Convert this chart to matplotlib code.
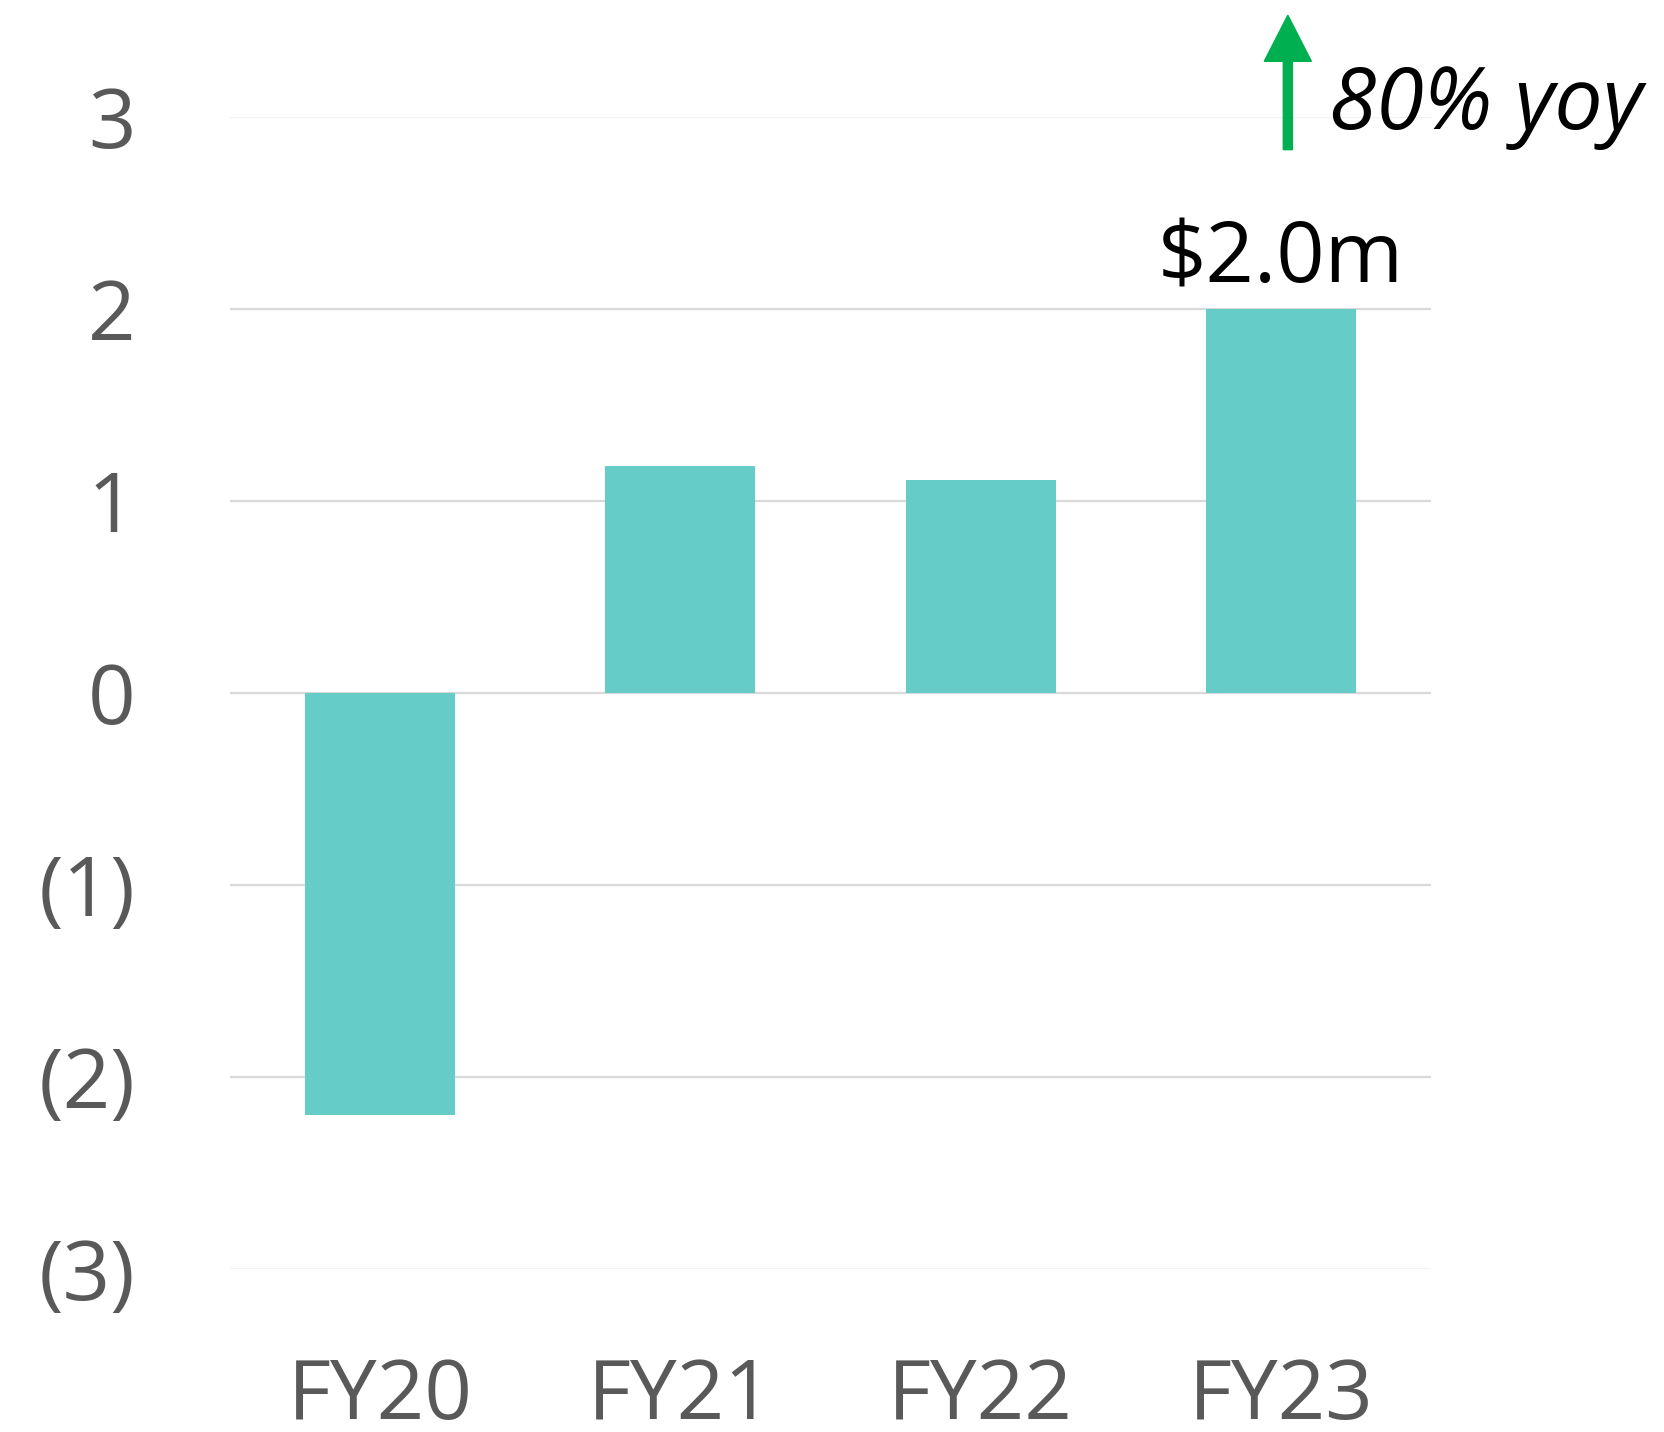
import matplotlib

matplotlib.use('Agg')

import matplotlib.pyplot as plt
from matplotlib.ticker import FuncFormatter

# data
years = ['FY20', 'FY21', 'FY22', 'FY23']
values = [-2.2, 1.18, 1.11, 2.0]
yticks = [-3, -2, -1, 0, 1, 2, 3]
last_label = '$2.0m'
growth_label = '80% yoy'

bar_color = '#66CCC7'
grid_color = '#D9D9D9'
edge_grid_color = '#F2F2F2'
tick_color = '#595959'
arrow_color = '#00B050'

plt.rcParams['font.family'] = ['Open Sans', 'DejaVu Sans']

fig = plt.figure(figsize=(16.65, 14.32), dpi=100)
ax = fig.add_axes([0.1381, 0.1138, 0.7214, 0.8045])

x = list(range(len(years)))
ax.bar(x, values, width=0.5, color=bar_color, zorder=2)

ax.set_xlim(-0.5, len(years) - 0.5)
ax.set_ylim(-3, 3)
ax.set_yticks(yticks)
ax.yaxis.set_major_formatter(FuncFormatter(lambda v, p: f'({abs(v):.0f})' if v < 0 else f'{v:.0f}'))

for t in yticks:
    c = edge_grid_color if abs(t) == 3 else grid_color
    ax.axhline(t, color=c, lw=1.6, zorder=1)

ax.set_xticks(x)
ax.set_xticklabels(years)
ax.tick_params(axis='both', length=0, labelsize=60, colors=tick_color)
ax.tick_params(axis='y', pad=68)
ax.tick_params(axis='x', pad=63)
for s in ax.spines.values():
    s.set_visible(False)

# value label on the last bar
ax.text(x[-1], 2.14, last_label, ha='center', va='baseline', fontsize=61, color='black')

# growth arrow + label
ax.arrow(x[-1] + 0.023, 2.83, 0, 0.70, width=0.03, head_width=0.157, head_length=0.24,
         length_includes_head=True, color=arrow_color, clip_on=False, zorder=3)
ax.text(3.16, 2.94, growth_label, ha='left', va='baseline', fontsize=62, style='italic',
        color='black', clip_on=False)

plt.savefig('out.png', dpi=100)
